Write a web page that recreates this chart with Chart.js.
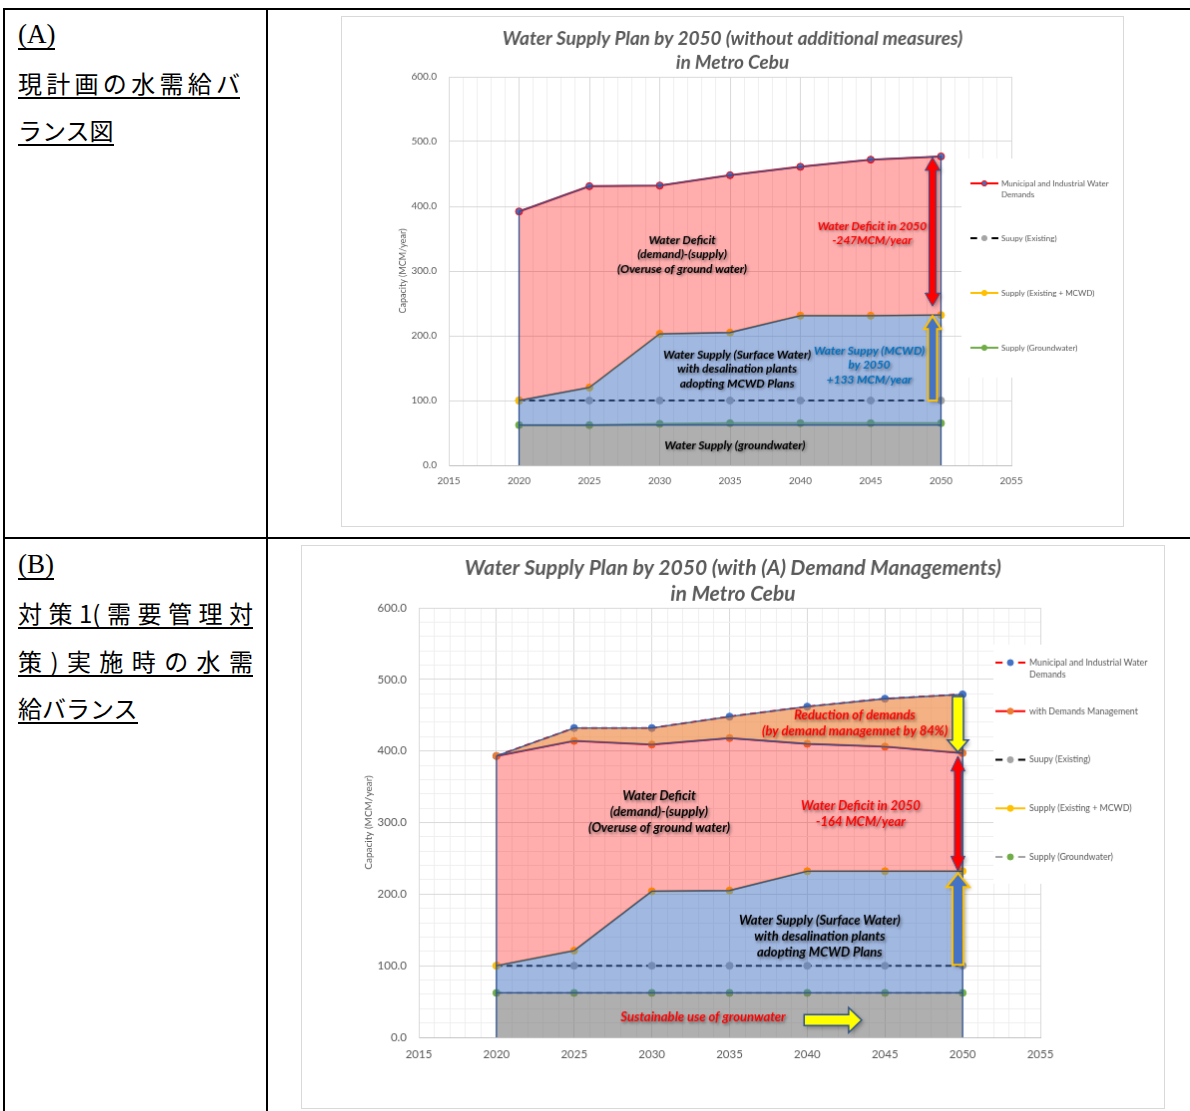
<!DOCTYPE html>
<html>
<head>
<meta charset="utf-8">
<script src="https://cdn.jsdelivr.net/npm/chart.js@4.4.1/dist/chart.umd.min.js"></script>
<style>
body { margin: 0; background: #fff; width: 1190px; height: 1111px; overflow: hidden; position: relative; font-family: "Noto Sans CJK JP", sans-serif; }
.frame { position: absolute; left: 3px; top: 8px; width: 1300px; height: 1300px; border-left: 2px solid #000; border-top: 2px solid #000; }
.vline { position: absolute; left: 266px; top: 8px; width: 2px; height: 1200px; background: #000; }
.hline { position: absolute; left: 3px; top: 537px; width: 1300px; height: 2px; background: #000; }
.lbl { position: absolute; left: 18px; font-size: 24px; line-height: 28px; color: #000; }
.lbl span { display: inline-block; border-bottom: 2px solid #000; }
.lbl .j { text-align: justify; text-align-last: justify; }
.lbl .en { font-family: "Liberation Serif", serif; font-size: 27px; }
canvas { position: absolute; border: 1px solid #D9D9D9; }
</style>
</head>
<body>
<div class="frame"></div>
<div class="vline"></div>
<div class="hline"></div>

<div class="lbl" style="top:19px"><span class="en">(A)</span></div>
<div class="lbl" style="top:69px"><span class="j" style="width:222px">現計画の水需給バ</span></div>
<div class="lbl" style="top:116px"><span>ランス図</span></div>

<div class="lbl" style="top:549px"><span class="en">(B)</span></div>
<div class="lbl" style="top:599px"><span class="j" style="width:235px">対策1(需要管理対</span></div>
<div class="lbl" style="top:647px"><span class="j" style="width:235px">策)実施時の水需</span></div>
<div class="lbl" style="top:694px"><span>給バランス</span></div>

<canvas id="chartA" width="783" height="511" style="left:341px;top:16px"></canvas>
<canvas id="chartB" width="864" height="564" style="left:301px;top:545px"></canvas>

<script>
Chart.defaults.font.family = 'Lato, "Open Sans", sans-serif';
Chart.defaults.color = '#595959';
Chart.defaults.animation = false;

const years = [2020, 2025, 2030, 2035, 2040, 2045, 2050];
const xTicks = [2015, 2020, 2025, 2030, 2035, 2040, 2045, 2050, 2055];
const yTicks = [0, 100, 200, 300, 400, 500, 600];

// (A) current plan
const demandA = [392, 431, 432, 448, 461, 472, 477];
const existingA = [100, 100, 100, 100, 100, 100, 100];
const mcwdA = [100, 120, 203, 205, 231, 231, 232];
const groundA = [62, 62, 64, 65, 65, 65, 65];
const groundBandA = [62, 62, 62, 62, 62, 62, 62];

// (B) with demand management
const demandB = [393, 432, 432, 448, 462, 473, 479];
const managedB = [393, 414, 409, 418, 410, 406, 397];
const existingB = [100, 100, 100, 100, 100, 100, 100];
const mcwdB = [100, 121, 204, 205, 232, 232, 232];
const groundB = [62, 62, 62, 62, 62, 62, 62];

const nameDemand = 'Municipal and Industrial Water Demands';
const nameManaged = 'with Demands Management';
const nameExisting = 'Suupy (Existing)';
const nameMcwd = 'Supply (Existing + MCWD)';
const nameGround = 'Supply (Groundwater)';

function pts(vals) {
	return years.map((x, i) => ({ x: x, y: vals[i] }));
}

function areaSet(vals, color, fill) {
	return { label: '', data: pts(vals), backgroundColor: color, borderColor: '#2F528F', borderWidth: 1.3,
		pointRadius: 0, fill: fill, order: 1, isArea: true };
}

// later series are drawn on top, like the spreadsheet does
function lineSet(order, label, vals, color, dot, dotLine, dash) {
	return { label: label, data: pts(vals), borderColor: color, borderWidth: 2, borderDash: dash || [],
		pointRadius: 3.5, pointBackgroundColor: dot, pointBorderColor: dotLine || dot, pointBorderWidth: 1,
		fill: false, order: order };
}

function scales(o) {
	const major = (list) => (c) => (c.tick && list.includes(c.tick.value)) ? '#D9D9D9' : '#EFEFEF';
	return {
		x: {
			type: 'linear', min: xTicks[0], max: xTicks[xTicks.length - 1],
			afterFit: (s) => { s.height = o.xh; },
			grid: { color: major(xTicks), drawTicks: false },
			border: { color: '#BFBFBF' },
			ticks: { stepSize: 1, autoSkip: false, maxRotation: 0, padding: o.xpad, font: { size: o.tick },
				callback: (v) => xTicks.includes(v) ? String(v) : '' }
		},
		y: {
			min: yTicks[0], max: yTicks[yTicks.length - 1],
			afterFit: (s) => { s.width = o.yw; },
			grid: { color: major(yTicks), drawTicks: false },
			border: { color: '#D9D9D9' },
			ticks: { stepSize: o.ystep, autoSkip: false, padding: 12, font: { size: o.tick },
				callback: (v) => yTicks.includes(v) ? v.toFixed(1) : '' },
			title: { display: true, text: 'Capacity (MCM/year)', font: { size: o.ytitle }, padding: { top: 4, bottom: 4 } }
		}
	};
}

function arrowPath(ctx, x1, y1, x2, y2, a) {
	const len = Math.hypot(x2 - x1, y2 - y1);
	const ux = (x2 - x1) / len, uy = (y2 - y1) / len, nx = -uy, ny = ux;
	const s = a.shaft / 2, h = a.head / 2, hl = a.len;
	const P = (t, n) => [x1 + ux * t + nx * n, y1 + uy * t + ny * n];
	let p;
	if (a.both) {
		p = [P(0, 0), P(hl, h), P(hl, s), P(len - hl, s), P(len - hl, h), P(len, 0),
			P(len - hl, -h), P(len - hl, -s), P(hl, -s), P(hl, -h)];
	} else {
		p = [P(0, s), P(len - hl, s), P(len - hl, h), P(len, 0), P(len - hl, -h), P(len - hl, -s), P(0, -s)];
	}
	ctx.beginPath();
	p.forEach((q, i) => i ? ctx.lineTo(q[0], q[1]) : ctx.moveTo(q[0], q[1]));
	ctx.closePath();
}

function decor(cfg) {
	return {
		id: 'decor',
		afterDatasetsDraw(chart) {
			const ctx = chart.ctx;
			const X = (v) => chart.scales.x.getPixelForValue(v);
			const Y = (v) => chart.scales.y.getPixelForValue(v);
			ctx.save();

			// closing edges of the stacked areas
			const areas = chart.data.datasets.filter(d => d.isArea);
			const top = areas[areas.length - 1].data;
			ctx.strokeStyle = '#2F528F';
			ctx.lineWidth = 1.3;
			[0, top.length - 1].forEach(i => {
				ctx.beginPath();
				ctx.moveTo(X(top[i].x), Y(0));
				ctx.lineTo(X(top[i].x), Y(top[i].y));
				ctx.stroke();
			});

			// arrows
			cfg.arrows.forEach(a => {
				let x1 = X(a.x[0]), x2 = X(a.x[1]), y1 = Y(a.y[0]), y2 = Y(a.y[1]);
				const len = Math.hypot(x2 - x1, y2 - y1);
				const ux = (x2 - x1) / len, uy = (y2 - y1) / len;
				x1 += ux * a.pad[0]; y1 += uy * a.pad[0];
				x2 -= ux * a.pad[1]; y2 -= uy * a.pad[1];
				ctx.save();
				ctx.shadowColor = 'rgba(0,0,0,0.35)';
				ctx.shadowBlur = 4;
				ctx.shadowOffsetX = 2;
				ctx.shadowOffsetY = 2;
				arrowPath(ctx, x1, y1, x2, y2, a);
				ctx.fillStyle = a.fill;
				ctx.fill();
				ctx.shadowColor = 'transparent';
				ctx.strokeStyle = a.stroke;
				ctx.lineWidth = a.lw;
				ctx.stroke();
				ctx.restore();
			});

			// notes
			ctx.textAlign = 'center';
			ctx.textBaseline = 'middle';
			ctx.font = 'italic bold ' + cfg.noteSize + 'px Lato';
			cfg.notes.forEach(n => {
				ctx.fillStyle = n.color;
				ctx.shadowColor = 'rgba(0,0,0,0.45)';
				ctx.shadowBlur = 3;
				ctx.shadowOffsetX = 1.5;
				ctx.shadowOffsetY = 1.5;
				n.lines.forEach((t, i) => ctx.fillText(t, X(n.x), Y(n.y) + i * cfg.noteLh));
			});
			ctx.shadowColor = 'transparent';

			// legend
			const L = cfg.legend;
			ctx.fillStyle = '#fff';
			ctx.fillRect(L.x, L.y, L.w, L.h);
			ctx.textAlign = 'left';
			ctx.font = L.size + 'px Lato';
			let y = L.first;
			chart.data.datasets.forEach(ds => {
				if (ds.isArea) return;
				const x0 = L.sx, x1 = L.sx + L.sw, xm = (x0 + x1) / 2;
				ctx.strokeStyle = ds.borderColor;
				ctx.lineWidth = 2;
				ctx.beginPath();
				if (ds.borderDash.length) {
					ctx.moveTo(x0, y); ctx.lineTo(x0 + L.sw * 0.24, y);
					ctx.moveTo(x1 - L.sw * 0.24, y); ctx.lineTo(x1, y);
				} else {
					ctx.moveTo(x0, y); ctx.lineTo(x1, y);
				}
				ctx.stroke();
				ctx.beginPath();
				ctx.arc(xm, y, L.r, 0, Math.PI * 2);
				ctx.fillStyle = ds.pointBackgroundColor;
				ctx.fill();
				ctx.strokeStyle = ds.pointBorderColor;
				ctx.lineWidth = 1;
				ctx.stroke();
				// wrap text
				ctx.fillStyle = '#595959';
				const words = ds.label.split(' ');
				let line = '', ly = y;
				words.forEach(w => {
					const test = line ? line + ' ' + w : w;
					if (ctx.measureText(test).width > L.tw && line) {
						ctx.fillText(line, L.tx, ly);
						line = w;
						ly += L.lh;
					} else {
						line = test;
					}
				});
				ctx.fillText(line, L.tx, ly);
				y += L.step;
			});
			ctx.restore();
		},
		afterDraw(chart) {
			const ctx = chart.ctx;
			ctx.save();
			ctx.font = 'italic bold ' + cfg.title.size + 'px Lato';
			ctx.fillStyle = '#595959';
			ctx.textAlign = 'center';
			ctx.textBaseline = 'middle';
			cfg.title.lines.forEach((t, i) => ctx.fillText(t, chart.width / 2, cfg.title.y[i]));
			ctx.restore();
		}
	};
}

// ---------- chart (A)
new Chart(document.getElementById('chartA'), {
	type: 'line',
	data: {
		datasets: [
			areaSet(groundBandA, 'rgba(110,110,110,0.55)', 'origin'),
			areaSet(mcwdA, 'rgba(68,114,196,0.5)', 0),
			areaSet(demandA, 'rgba(255,0,0,0.32)', 1),
			lineSet(6, nameDemand, demandA, '#FF0000', '#4472C4', '#FF0000'),
			lineSet(4, nameExisting, existingA, '#000000', '#A5A5A5', '#A5A5A5', [6, 4]),
			lineSet(3, nameMcwd, mcwdA, '#FFC000', '#FFC000'),
			lineSet(2, nameGround, groundA, '#70AD47', '#70AD47')
		]
	},
	options: {
		responsive: false,
		layout: { padding: { left: 52, right: 112, top: 60, bottom: 0 } },
		scales: scales({ xh: 61, xpad: 10, yw: 55, ystep: 100, tick: 10, ytitle: 9 }),
		plugins: { legend: { display: false }, tooltip: { enabled: false } }
	},
	plugins: [decor({
		title: { lines: ['Water Supply Plan by 2050 (without additional measures)', 'in Metro Cebu'], size: 19, y: [22, 46] },
		noteSize: 11.9, noteLh: 14.5,
		notes: [
			{ x: 2031.6, y: 347.7, color: '#000', lines: ['Water Deficit', '(demand)-(supply)', '(Overuse of ground water)'] },
			{ x: 2045.1, y: 369, color: '#FF0000', lines: ['Water Deficit in 2050', '-247MCM/year'] },
			{ x: 2035.5, y: 170.8, color: '#000', lines: ['Water Supply (Surface Water)', 'with desalination plants', 'adopting MCWD Plans'] },
			{ x: 2044.9, y: 177, color: '#0070C0', lines: ['Water Suppy (MCWD)', 'by 2050', '+133 MCM/year'] },
			{ x: 2035.35, y: 30.8, color: '#000', lines: ['Water Supply (groundwater)'] }
		],
		arrows: [
			{ x: [2049.4, 2049.4], y: [mcwdA[6], demandA[6]], pad: [9, 1], both: true, shaft: 7, head: 15, len: 13, fill: '#FF0000', stroke: '#2F528F', lw: 1 },
			{ x: [2049.4, 2049.4], y: [existingA[6], mcwdA[6]], pad: [0, 1], both: false, shaft: 9, head: 17, len: 13, fill: '#4472C4', stroke: '#FFC000', lw: 2 }
		],
		legend: { x: 621, y: 142, w: 160, h: 220, first: 167, step: 55, sx: 630, sw: 28, tx: 661, tw: 116, size: 8, lh: 11, r: 2.6 }
	})]
});

// ---------- chart (B)
new Chart(document.getElementById('chartB'), {
	type: 'line',
	data: {
		datasets: [
			areaSet(groundB, 'rgba(110,110,110,0.55)', 'origin'),
			areaSet(mcwdB, 'rgba(68,114,196,0.5)', 0),
			areaSet(managedB, 'rgba(255,0,0,0.32)', 1),
			areaSet(demandB, 'rgba(237,125,49,0.6)', 2),
			lineSet(6, nameDemand, demandB, '#FF0000', '#4472C4', '#4472C4', [6, 4]),
			lineSet(5, nameManaged, managedB, '#FF0000', '#ED7D31', '#ED7D31'),
			lineSet(4, nameExisting, existingB, '#000000', '#A5A5A5', '#A5A5A5', [6, 4]),
			lineSet(3, nameMcwd, mcwdB, '#FFC000', '#FFC000'),
			lineSet(2, nameGround, groundB, '#A5A5A5', '#70AD47', '#70AD47', [6, 4])
		]
	},
	options: {
		responsive: false,
		layout: { padding: { left: 57, right: 124, top: 62, bottom: 0 } },
		scales: scales({ xh: 71, xpad: 10, yw: 60, ystep: 20, tick: 11.5, ytitle: 10 }),
		plugins: { legend: { display: false }, tooltip: { enabled: false } }
	},
	plugins: [decor({
		title: { lines: ['Water Supply Plan by 2050 (with (A) Demand Managements)', 'in Metro Cebu'], size: 21, y: [22, 48] },
		noteSize: 13, noteLh: 16,
		notes: [
			{ x: 2043.06, y: 449.7, color: '#FF0000', lines: ['Reduction of demands', '(by demand managemnet by 84%)'] },
			{ x: 2030.47, y: 336.9, color: '#000', lines: ['Water Deficit', '(demand)-(supply)', '(Overuse of ground water)'] },
			{ x: 2043.44, y: 323, color: '#FF0000', lines: ['Water Deficit in 2050', '-164 MCM/year'] },
			{ x: 2040.8, y: 162.9, color: '#000', lines: ['Water Supply (Surface Water)', 'with desalination plants', 'adopting MCWD Plans'] },
			{ x: 2033.3, y: 27.8, color: '#FF0000', lines: ['Sustainable use of grounwater'] }
		],
		arrows: [
			{ x: [2049.7, 2049.7], y: [demandB[6], managedB[6]], pad: [2, 1], both: false, shaft: 11, head: 21, len: 12, fill: '#FFFF00', stroke: '#2F528F', lw: 1.5 },
			{ x: [2049.7, 2049.7], y: [managedB[6], mcwdB[6]], pad: [3, 0], both: true, shaft: 7, head: 14, len: 15, fill: '#FF0000', stroke: '#2F528F', lw: 1 },
			{ x: [2049.7, 2049.7], y: [existingB[6], mcwdB[6]], pad: [1, 2], both: false, shaft: 11, head: 23, len: 14, fill: '#4472C4', stroke: '#FFC000', lw: 2 },
			{ x: [2039.8, 2043.5], y: [24, 24], pad: [0, 0], both: false, shaft: 11, head: 25, len: 13, fill: '#FFFF00', stroke: '#2F528F', lw: 1.5 }
		],
		legend: { x: 693, y: 99, w: 168, h: 240, first: 117, step: 48.75, sx: 695, sw: 30, tx: 729, tw: 128, size: 8.8, lh: 12, r: 3 }
	})]
});
</script>
</body>
</html>
